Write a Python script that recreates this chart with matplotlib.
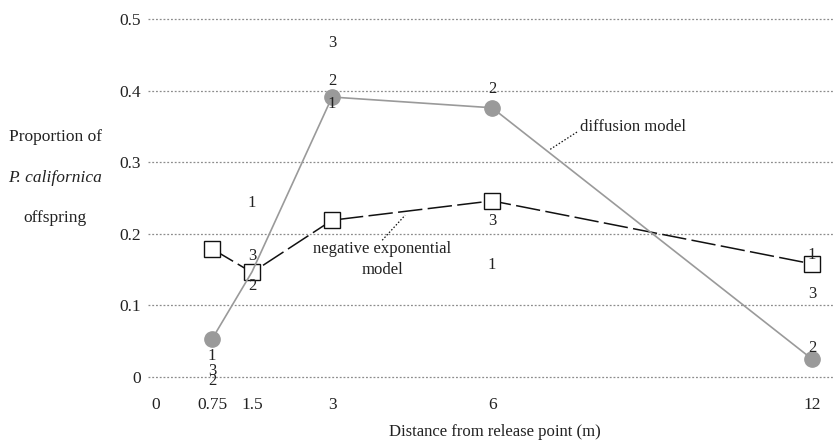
import numpy as np
import matplotlib.pyplot as plt
import matplotlib.transforms as mtransforms

plt.rcParams['font.family'] = ['Liberation Serif', 'DejaVu Serif']

# distances (m)
dist = [0.75, 1.5, 3, 6, 12]
# diffusion model (grey circles); value at 1.5 sits under the square
diffusion = [0.053, 0.147, 0.391, 0.376, 0.025]
# negative exponential model (open squares)
neg_exp = [0.179, 0.146, 0.219, 0.246, 0.158]

# replicate observations, shown as numbers 1/2/3
rep_x = [0.75, 0.75, 0.75, 1.5, 1.5, 1.5, 3, 3, 3, 6, 6, 6, 12, 12, 12]
rep_lab = ['1', '3', '2', '1', '3', '2', '3', '2', '1', '2', '3', '1', '1', '3', '2']
rep_y = [0.030, 0.008, -0.005, 0.243, 0.169, 0.127, 0.466, 0.413, 0.381,
         0.402, 0.218, 0.156, 0.170, 0.116, 0.041]

xticks = [0, 0.75, 1.5, 3, 6, 12]
xtick_labels = ['0', '0.75', '1.5', '3', '6', '12']
yticks = [0, 0.1, 0.2, 0.3, 0.4, 0.5]
ytick_labels = ['0', '0.1', '0.2', '0.3', '0.4', '0.5']

txt = '#222222'
grey = '#9a9a9a'

fig = plt.figure(figsize=(8.34, 4.41), dpi=100)
ax = fig.add_axes([0.1775, 0.1288, 0.8225, 0.8444])

ax.set_xlim(-0.45, 12.41)
ax.set_ylim(-0.01, 0.51)

for y in yticks:
    ax.axhline(y, color='#8c8c8c', linestyle=(0, (1.5, 1.5)), linewidth=0.9, zorder=1)

# negative exponential model
ax.plot(dist, neg_exp, color='#111111', linewidth=1.1, dashes=(16, 3.5),
        marker='s', markersize=11, markerfacecolor='white',
        markeredgecolor='#111111', markeredgewidth=1.0, zorder=3)

# diffusion model
ax.plot(dist, diffusion, color=grey, linewidth=1.2, marker='o', markersize=11,
        markerfacecolor=grey, markeredgecolor=grey, markevery=[0, 2, 3, 4], zorder=4)

for x, lab, y in zip(rep_x, rep_lab, rep_y):
    ax.text(x, y, lab, ha='center', va='center', fontsize=12, color=txt, zorder=5)

# model labels with dotted leaders
ax.plot([7.09, 7.61], [0.318, 0.343], color='#111111', linestyle=(0, (1.2, 1.5)), linewidth=0.9)
ax.text(7.64, 0.349, 'diffusion model', ha='left', va='center', fontsize=12, color=txt)
ax.plot([3.94, 4.37], [0.191, 0.226], color='#111111', linestyle=(0, (1.2, 1.5)), linewidth=0.9)
ax.text(3.94, 0.164, 'negative exponential\nmodel', ha='center', va='center',
        fontsize=12, color=txt, linespacing=1.35)

ax.set_xticks(xticks)
ax.set_xticklabels(xtick_labels)
ax.set_yticks(yticks)
ax.set_yticklabels(ytick_labels)
ax.tick_params(axis='both', length=0, labelsize=12.5, colors=txt)
ax.tick_params(axis='x', pad=9)
ax.tick_params(axis='y', pad=5)
for s in ax.spines.values():
    s.set_visible(False)

# the "0" label sits a bit left of the origin in the original
shift = mtransforms.ScaledTranslation(-0.16, 0, fig.dpi_scale_trans)
lbl0 = ax.get_xticklabels()[0]
lbl0.set_transform(lbl0.get_transform() + shift)

fig.text(0.0665, 1 - 137 / 441, 'Proportion of', ha='center', va='center', fontsize=12.5, color=txt)
fig.text(0.0665, 1 - 178 / 441, 'P. californica', ha='center', va='center', fontsize=12.5,
         color=txt, style='italic')
fig.text(0.0665, 1 - 218 / 441, 'offspring', ha='center', va='center', fontsize=12.5, color=txt)
fig.text(495 / 834, 1 - 432 / 441, 'Distance from release point (m)', ha='center', va='center',
         fontsize=12, color=txt)

fig.savefig('out.png', dpi=100)
